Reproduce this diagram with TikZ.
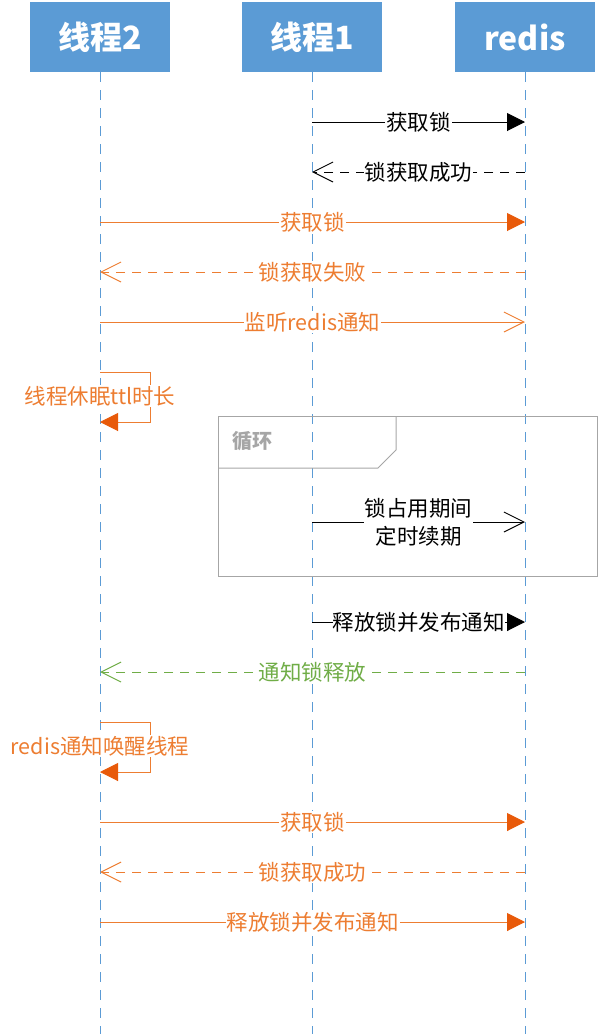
\documentclass[tikz,border=0pt]{standalone}
\usepackage{fontspec}
\newfontfamily\cjk{Noto Sans CJK SC}
\usetikzlibrary{arrows.meta}
\definecolor{hdrblue}{HTML}{5B9BD5}
\definecolor{lifeblue}{HTML}{5B9BD5}
\definecolor{orln}{HTML}{ED7D31}
\definecolor{ortip}{HTML}{E85A0A}
\definecolor{grn}{HTML}{70AD47}
\definecolor{loopgray}{HTML}{A6A6A6}
\tikzset{
  hdr/.style={fill=hdrblue, minimum width=140pt, minimum height=70pt, inner sep=0pt,
    text=white, font=\cjk\bfseries\fontsize{32}{36}\selectfont},
  life/.style={lifeblue, line width=1pt, dash pattern=on 10pt off 8pt},
  lbl/.style={fill=white, inner sep=1pt, font=\cjk\fontsize{21.5}{28}\selectfont},
  filltip/.style={-{Triangle[length=18pt,width=18pt]}},
  opentip/.style={-{Straight Barb[length=20pt,width=20pt,line width=1pt]}},
  msg/.style={line width=1pt},
}
\begin{document}
\begin{tikzpicture}[x=1pt,y=-1pt]
\useasboundingbox (0,0) rectangle (598,1034);
% headers
\node[hdr] (h2) at (100,37) {线程2};
\node[hdr] (h1) at (312,37) {线程1};
\node[hdr] (hr) at (525,37) {redis};
% lifeline ends
\coordinate (e2) at (100,1034);
\coordinate (e1) at (312,1034);
\coordinate (er) at (525,1034);
\draw[life] (h2.south) -- (e2);
\draw[life] (h1.south) -- (e1);
\draw[life] (hr.south) -- (er);
% message anchor points
\foreach \y/\n in {122/a,172/b,222/c,272/d,322/e,372/f,422/g,522/h,622/i,672/j,722/k,772/l,822/m,872/n,922/o}{
  \coordinate (L2\n) at (100,\y);
  \coordinate (L1\n) at (312,\y);
  \coordinate (LR\n) at (525,\y);
}
% loop frame
\node[draw=loopgray, line width=1pt, minimum width=379pt, minimum height=160pt, inner sep=0pt] (loopbox) at (407.5,496) {};
\coordinate (t1) at (396,416);
\coordinate (t2) at (396,450);
\coordinate (t3) at (378,468);
\coordinate (t4) at (218,468);
\draw[loopgray, line width=1pt] (t1) -- (t2) -- (t3) -- (t4);
\node[text=loopgray, font=\cjk\bfseries\fontsize{20}{22}\selectfont] (looplbl) at (252,441) {循环};
% messages
\draw[msg, black, filltip] (L1a) -- node[lbl, text=black] (m1) {获取锁} (LRa);
\draw[msg, black, dashed, dash pattern=on 9pt off 7pt, opentip] (LRb) -- node[lbl, text=black] (m2) {锁获取成功} (L1b);
\draw[msg, orln, -{Triangle[length=18pt,width=18pt,fill=ortip,color=ortip]}] (L2c) -- node[lbl, text=orln] (m3) {获取锁} (LRc);
\draw[msg, orln, dash pattern=on 9pt off 7pt, opentip] (LRd) -- node[lbl, text=orln] (m4) {锁获取失败} (L2d);
\draw[msg, orln, opentip] (L2e) -- node[lbl, text=orln] (m5) {监听redis通知} (LRe);
% self loop 1
\coordinate (s1a) at (150,372);
\coordinate (s1b) at (150,422);
\draw[msg, orln, -{Triangle[length=18pt,width=18pt,fill=ortip,color=ortip]}] (L2f) -- (s1a) -- (s1b) -- (L2g);
\node[lbl, text=orln] (m6) at (100,396) {线程休眠ttl时长};
% in loop
\draw[msg, black, opentip] (L1h) -- node[lbl, text=black, align=center] (m7) {锁占用期间\\定时续期} (LRh);
\draw[msg, black, filltip] (L1i) -- node[lbl, text=black, inner sep=0pt] (m8) {释放锁并发布通知} (LRi);
\draw[msg, grn, dash pattern=on 9pt off 7pt, opentip] (LRj) -- node[lbl, text=grn] (m9) {通知锁释放} (L2j);
% self loop 2
\coordinate (s2a) at (150,722);
\coordinate (s2b) at (150,772);
\draw[msg, orln, -{Triangle[length=18pt,width=18pt,fill=ortip,color=ortip]}] (L2k) -- (s2a) -- (s2b) -- (L2l);
\node[lbl, text=orln] (m10) at (100,746) {redis通知唤醒线程};
\draw[msg, orln, -{Triangle[length=18pt,width=18pt,fill=ortip,color=ortip]}] (L2m) -- node[lbl, text=orln] (m11) {获取锁} (LRm);
\draw[msg, orln, dash pattern=on 9pt off 7pt, opentip] (LRn) -- node[lbl, text=orln] (m12) {锁获取成功} (L2n);
\draw[msg, orln, -{Triangle[length=18pt,width=18pt,fill=ortip,color=ortip]}] (L2o) -- node[lbl, text=orln] (m13) {释放锁并发布通知} (LRo);
\end{tikzpicture}
\end{document}
